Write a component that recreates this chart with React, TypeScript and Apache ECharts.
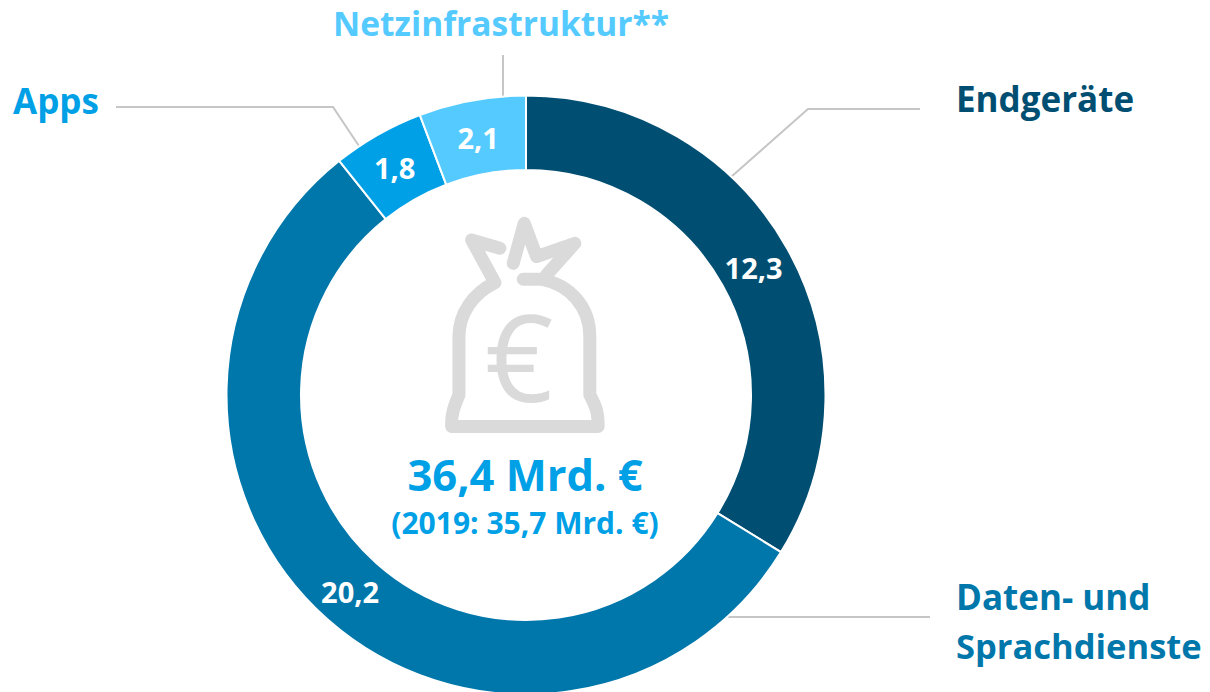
import React, { useEffect, useRef } from "react";
import * as echarts from "echarts";

const categories = ["Endgeräte", "Daten- und\nSprachdienste", "Apps", "Netzinfrastruktur**"];
const values = [12.3, 20.2, 1.8, 2.1];
const colors = ["#004F72", "#0077AB", "#00A0E6", "#55CAFF"];
const labelOffsets = [[-4, 2], [0, -2], [0, 3], [0, 3]];
const totalText = "36,4 Mrd. €";
const priorText = "(2019: 35,7 Mrd. €)";

const FONT = "Open Sans";
const bag =
  "M310 238 L365 238 C450 255 510 320 510 410 L510 585 C525 615 535 630 535 680 L95 680 C93 640 105 615 117 585 L117 410 C117 340 160 280 225 248 L155 120 L240 145 M280 190 L313 70 L350 170 L465 130 L380 225";
echarts.graphic.registerShape("bag", echarts.graphic.extendPath(bag, {}) as any);

export default function App() {
  const ref = useRef<HTMLDivElement>(null);
  useEffect(() => {
    const chart = echarts.init(ref.current!, undefined, { renderer: "svg" });
    const nameText = (i: number, text: string, x: number, y: number, size = 35) => ({
      type: "text", x, y,
      style: { text, fill: colors[i], font: `bold ${size}px "${FONT}"`, textAlign: "left", textVerticalAlign: "middle" },
    });
    const leader = (points: number[][]) => ({
      type: "polyline", shape: { points }, style: { stroke: "#C6C6C6", lineWidth: 2, fill: "none" },
    });
    chart.setOption({
      animation: false,
      backgroundColor: "#fff",
      series: [{
        type: "pie",
        center: [526, 395],
        radius: [225, 299.5],
        startAngle: 90,
        clockwise: true,
        silent: true,
        data: categories.map((name, i) => ({
          name,
          value: values[i],
          itemStyle: { color: colors[i] },
          label: { offset: labelOffsets[i] },
        })),
        itemStyle: { borderColor: "#fff", borderWidth: 2 },
        label: {
          position: "inside",
          formatter: (p: any) => String(p.value).replace(".", ","),
          color: "#fff",
          fontFamily: FONT,
          fontWeight: "bold",
          fontSize: 29,
        },
        labelLine: { show: false },
      }],
      graphic: [
        leader([[731, 177], [808, 109], [920, 109]]),
        leader([[116, 107], [333, 107], [359, 146]]),
        leader([[503, 55], [503, 96]]),
        leader([[728, 617], [930, 617]]),
        nameText(0, "Endgeräte", 956, 98),
        nameText(2, "Apps", 13, 100),
        nameText(3, categories[3], 333, 23, 33.5),
        nameText(1, "Daten- und", 956, 596, 35),
        nameText(1, "Sprachdienste", 956, 645, 34.5),
        {
          type: "bag", x: 420, y: 200, scaleX: 1 / 3, scaleY: 1 / 3,
          style: { fill: "none", stroke: "#DADADA", lineWidth: 39, lineCap: "round", lineJoin: "round" },
        },
        {
          type: "text", x: 519, y: 355,
          style: { text: "€", fill: "#DADADA", font: `normal 120px "${FONT}"`, textAlign: "center", textVerticalAlign: "middle" },
        },
        {
          type: "text", x: 525, y: 474,
          style: { text: totalText, fill: colors[2], font: `bold 43.5px "${FONT}"`, textAlign: "center", textVerticalAlign: "middle" },
        },
        {
          type: "text", x: 525, y: 522,
          style: { text: priorText, fill: colors[2], font: `bold 30px "${FONT}"`, textAlign: "center", textVerticalAlign: "middle" },
        },
      ],
    });
    return () => chart.dispose();
  }, []);
  return <div ref={ref} style={{ position: "absolute", left: 0, top: 0, width: 1210, height: 692 }} />;
}
